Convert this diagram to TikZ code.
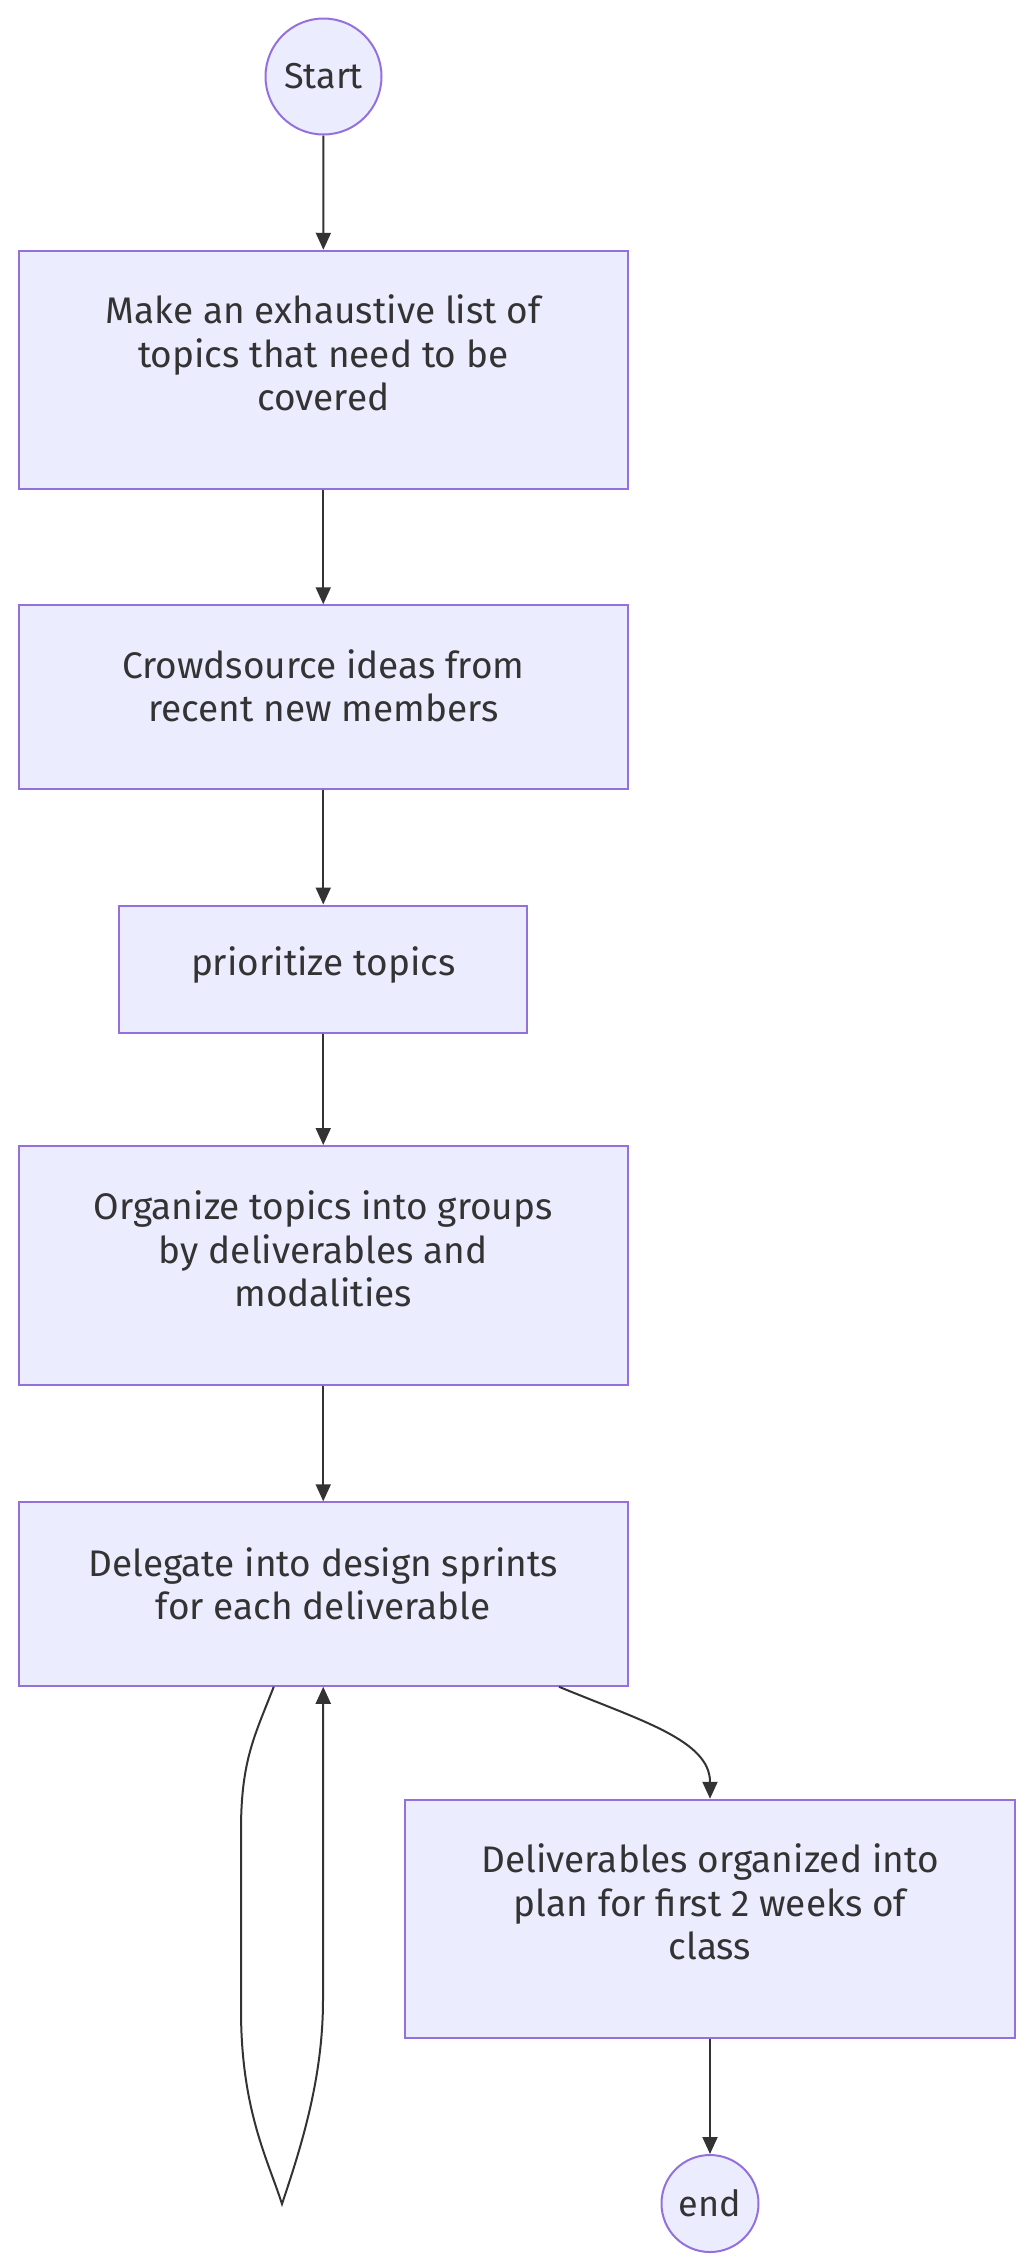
\documentclass[tikz,border=0pt]{standalone}
\usepackage{fontspec}
\setmainfont{Fira Sans}
\usetikzlibrary{arrows.meta}
\definecolor{mmfill}{HTML}{ECECFF}
\definecolor{mmborder}{HTML}{9370DB}
\definecolor{mmline}{HTML}{333333}
\tikzset{
    task/.style={rectangle, draw=mmborder, fill=mmfill, line width=2pt, minimum width=609.5pt, inner sep=0},
    terminal/.style={circle, draw=mmborder, fill=mmfill, line width=2pt, inner sep=0, font=\fontsize{36}{40}\selectfont, text=mmline},
    caption/.style={align=center, text=mmline, inner sep=0, font=\fontsize{37}{43.5}\selectfont},
    flow/.style={draw=mmline, line width=2pt, -{Triangle[length=17pt, width=15pt]}}
}

\begin{document}
\begin{tikzpicture}[x=1pt, y=-1pt]
    \useasboundingbox (0,0) rectangle (1028,2268);
    \node[terminal, minimum size=116pt] (start) at (323.5,76.5) {Start};
    \node[task, minimum height=238.5pt] (list) at (323.25,370) {};
    \node[task, minimum height=183.5pt] (crowd) at (323.25,697) {};
    \node[task, minimum width=408pt, minimum height=127pt] (prio) at (323.25,969) {};
    \node[task, minimum height=239pt] (organize) at (323.25,1265.5) {};
    \node[task, minimum height=183.5pt] (deleg) at (323.25,1594) {};
    \node[task, minimum height=238.5pt] (plan) at (710,1919) {};
    \node[terminal, minimum size=97pt] (end) at (710,2203.5) {end};

    \node[caption] (listtxt) at (323.25,353) {Make an exhaustive list of\\topics that need to be\\covered};
    \node[caption] (crowdtxt) at (323.25,686) {Crowdsource ideas from\\recent new members};
    \node[caption] (priotxt) at (323.25,965) {prioritize topics};
    \node[caption] (organizetxt) at (323.25,1249) {Organize topics into groups\\by deliverables and\\modalities};
    \node[caption] (delegtxt) at (323.25,1584) {Delegate into design sprints\\for each deliverable};
    \node[caption] (plantxt) at (710,1902) {Deliverables organized into\\plan for first 2 weeks of\\class};

    \draw[flow] (start) -- (list);
    \draw[flow] (list) -- (crowd);
    \draw[flow] (crowd) -- (prio);
    \draw[flow] (prio) -- (organize);
    \draw[flow] (organize) -- (deleg);
    % self loop on the sprint box
    \coordinate (looptip) at (282,2204);
    \draw[flow] ([xshift=-49.5pt]deleg.south) .. controls (255,1735) and (241,1760) .. (241,1830)
        -- (241,2010) .. controls (241,2110) and (268,2160) .. (looptip)
        .. controls (300,2150) and (323,2080) .. (323,2000) -- (deleg.south);
    \draw[flow] ([xshift=235.75pt]deleg.south) .. controls (639,1720) and (710,1740) .. (710,1782) -- (plan.north);
    \draw[flow] (plan) -- (end);
\end{tikzpicture}
\end{document}
